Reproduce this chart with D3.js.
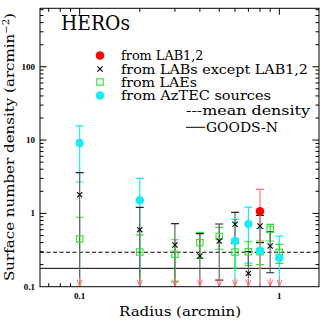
<!DOCTYPE html>
<html><head><meta charset="utf-8">
<script src="https://cdn.jsdelivr.net/npm/d3@7"></script>
<style>body{margin:0;background:#fff}svg{display:block}</style>
</head><body>
<script>
// ---- data ----
const radii = [0.1,0.2,0.3,0.4,0.5,0.6,0.7,0.8,0.9,1.0];
// from LAB1,2 (0 = upper limit arrow)
const lab12    = [0,0,0,0,0,0,0,1.07,0,0];
const lab12Hi  = [null,null,null,null,null,null,null,2.13,null,null];
const lab12Lo  = [null,null,null,null,null,null,null,0,null,null];
// from LABs except LAB1,2
const labs     = [1.8,0.6,0.37,0.262,0.42,0.71,0.152,0.673,0.36,null];
const labsHi   = [3.59,1.21,0.723,0.53,0.717,1.035,0.30,0.94,0.56,null];
const labsLo   = [0,0,0,0,0.123,0.39,0,0.40,0.155,null];
// from LAEs
const laes     = [0.448,0.297,0.277,0.398,0.484,0.297,0.30,0.30,0.607,0.294];
const laesHi   = [0.885,0.51,0.437,0.552,0.644,0.45,0.41,0.42,0.71,0.378];
const laesLo   = [0,0.087,0.117,0.244,0.324,0.18,0.195,0.2,0.42,0.208];
// from AzTEC sources
const aztec    = [9.1,1.51,null,null,null,0.42,0.717,0.31,null,0.246];
const aztecHi  = [15.6,3.01,null,null,null,0.83,1.22,0.62,null,0.49];
const aztecLo  = [2.68,0,null,null,null,0,0.21,0,null,0];
const meanDensity = 0.295;
const goodsN = 0.178;
const xTickLabels = [0.1, 1];
const yTickLabels = [0.1, 1, 10, 100];

// ---- layout ----
const W = 327, H = 327;
const L = 40, R = 319, T = 8.3, B = 286.7;
const x = d3.scaleLog().domain([0.0633, 1.58]).range([L, R]);
const y = d3.scaleLog().domain([0.1, 627]).range([B, T]);

const svg = d3.select("body").append("svg").attr("width", W).attr("height", H);
svg.append("defs").append("clipPath").attr("id","clip")
  .append("rect").attr("x",L).attr("y",T).attr("width",R-L).attr("height",B-T);

const serif = "'DejaVu Serif', serif";

// ---- axes ticks ----
const g = svg.append("g");
const xMinor = [0.07,0.08,0.09,0.2,0.3,0.4,0.5,0.6,0.7,0.8,0.9];
const yMinor = [];
[0.1,1,10,100].forEach(d => { for (let k=2;k<=9;k++){ const v=d*k; if (v<627) yMinor.push(v);} });

function xt(vals, len){
  vals.forEach(v=>{
    g.append("line").attr("x1",x(v)).attr("x2",x(v)).attr("y1",B).attr("y2",B-len).attr("stroke","#000");
    g.append("line").attr("x1",x(v)).attr("x2",x(v)).attr("y1",T).attr("y2",T+len).attr("stroke","#000");
  });
}
function yt(vals, len){
  vals.forEach(v=>{
    g.append("line").attr("y1",y(v)).attr("y2",y(v)).attr("x1",L).attr("x2",L+len).attr("stroke","#000");
    g.append("line").attr("y1",y(v)).attr("y2",y(v)).attr("x1",R).attr("x2",R-len).attr("stroke","#000");
  });
}
xt(xMinor, 3.5); xt(xTickLabels, 6.5);
yt(yMinor, 3.5); yt(yTickLabels.filter(v=>v>0.1), 6.5);

xTickLabels.forEach(v=>{
  svg.append("text").attr("x",x(v)).attr("y",299).attr("text-anchor","middle")
    .attr("font-family","'Liberation Serif', serif").attr("font-size",9).attr("font-weight","bold").text(v);
});
yTickLabels.forEach(v=>{
  svg.append("text").attr("x",35).attr("y",y(v)+3).attr("text-anchor","end")
    .attr("font-family","'Liberation Serif', serif").attr("font-size",9).attr("font-weight","bold").text(v);
});

// ---- reference lines ----
const plot = svg.append("g").attr("clip-path","url(#clip)");
plot.append("line").attr("x1",L).attr("x2",R).attr("y1",y(meanDensity)).attr("y2",y(meanDensity))
  .attr("stroke","#000").attr("stroke-dasharray","4,2.5");
plot.append("line").attr("x1",L).attr("x2",R).attr("y1",y(goodsN)).attr("y2",y(goodsN))
  .attr("stroke","#000");

// ---- error bars ----
function ebars(vals, hi, lo, lineCol, capCol){
  radii.forEach((r,i)=>{
    if (vals[i]==null || hi[i]==null) return;
    const yh = y(hi[i]);
    const yl = lo[i] > 0.1 ? y(lo[i]) : B + 5;
    const cx = x(r);
    plot.append("line").attr("x1",cx).attr("x2",cx).attr("y1",yh).attr("y2",yl)
      .attr("stroke",lineCol).attr("stroke-width",1.2);
    plot.append("line").attr("x1",cx-4).attr("x2",cx+4).attr("y1",yh).attr("y2",yh).attr("stroke",capCol).attr("stroke-width",1.2);
    if (lo[i] > 0.1)
      plot.append("line").attr("x1",cx-4).attr("x2",cx+4).attr("y1",yl).attr("y2",yl).attr("stroke",capCol).attr("stroke-width",1.2);
  });
}
const cCyan = "#18ecf4", cGreen = "#33dd33", cRed = "#ff0000", cRedLight = "#f77";
ebars(aztec, aztecHi, aztecLo, cCyan, cCyan);
ebars(laes, laesHi, laesLo, cGreen, cGreen);
ebars(labs, labsHi, labsLo, "#666", "#222");
ebars(lab12, lab12Hi, lab12Lo, cRedLight, cRedLight);

// ---- markers ----
function drawCircle(sel, cx, cy, col){ sel.append("circle").attr("cx",cx).attr("cy",cy).attr("r",4.3).attr("fill",col); }
function drawCross(sel, cx, cy){
  const s=2.6;
  sel.append("path").attr("d",`M${cx-s},${cy-s}L${cx+s},${cy+s}M${cx-s},${cy+s}L${cx+s},${cy-s}`)
    .attr("stroke","#000").attr("stroke-width",1.1).attr("fill","none");
}
function drawSquare(sel, cx, cy){
  sel.append("rect").attr("x",cx-3.2).attr("y",cy-3.2).attr("width",6.4).attr("height",6.4)
    .attr("fill","none").attr("stroke",cGreen).attr("stroke-width",1.1);
}
radii.forEach((r,i)=>{ if (laes[i]!=null) drawSquare(plot, x(r), y(laes[i])); });
radii.forEach((r,i)=>{ if (aztec[i]!=null) drawCircle(plot, x(r), y(aztec[i]), cCyan); });
radii.forEach((r,i)=>{ if (labs[i]!=null) drawCross(plot, x(r), y(labs[i])); });
radii.forEach((r,i)=>{ if (lab12[i]>0) drawCircle(plot, x(r), y(lab12[i]), cRed); });
// upper limit arrows for LAB1,2
radii.forEach((r,i)=>{
  if (lab12[i]===0){
    const cx=x(r);
    plot.append("path").attr("d",`M${cx},${B-9}L${cx},${B}M${cx-2.5},${B-7}L${cx},${B}L${cx+2.5},${B-7}`)
      .attr("stroke",cRedLight).attr("stroke-width",1).attr("fill","none");
  }
});

// ---- frame ----
svg.append("rect").attr("x",L).attr("y",T).attr("width",R-L).attr("height",B-T)
  .attr("fill","none").attr("stroke","#000").attr("stroke-width",1);

// ---- texts ----
function txt(s, xx, yy, size, len, anchor){
  const t = svg.append("text").attr("x",xx).attr("y",yy).attr("font-family",serif)
    .attr("font-size",size).attr("fill","#000").text(s);
  if (len) t.attr("textLength",len).attr("lengthAdjust","spacingAndGlyphs");
  if (anchor) t.attr("text-anchor",anchor);
  return t;
}
txt("HEROs", 61, 30, 20.5, 69);
const lx = 100;
drawCircle(svg, lx, 55.5, cRed);
drawCross(svg, lx, 69);
drawSquare(svg, lx, 82);
drawCircle(svg, lx, 95.5, cCyan);
txt("from LAB1,2", 121, 60, 12.3, 82.5);
txt("from LABs except LAB1,2", 121, 73.5, 12.3, 187);
txt("from LAEs", 121, 86.5, 12.3, 76);
txt("from AzTEC sources", 121, 100, 12.3, 150);
txt("---mean density", 186, 115, 12.3, 124);
svg.append("line").attr("x1",186).attr("x2",205).attr("y1",127.3).attr("y2",127.3).attr("stroke","#000");
txt("GOODS-N", 206, 132, 12.3, 72);

txt("Radius (arcmin)", 119, 316, 13.5, 122);
const yl = svg.append("text").attr("transform","translate(14,147) rotate(-90)")
  .attr("text-anchor","middle").attr("font-family",serif).attr("font-size",13.5)
  .attr("textLength",268).attr("lengthAdjust","spacingAndGlyphs");
yl.append("tspan").text("Surface number density (arcmin");
yl.append("tspan").attr("font-size",9).attr("dy",-5).text("−2");
yl.append("tspan").attr("dy",5).text(")");
</script>
</body></html>
